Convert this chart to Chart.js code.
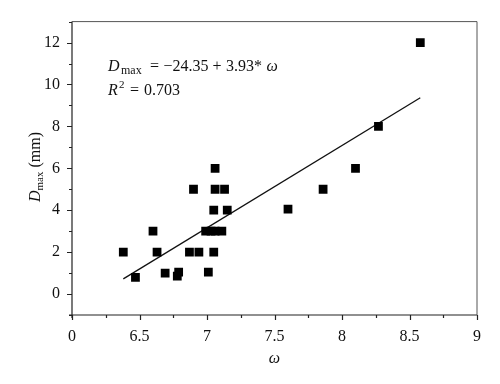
<!DOCTYPE html>
<html><head><meta charset="utf-8">
<script src="https://cdn.jsdelivr.net/npm/chart.js@4/dist/chart.umd.min.js"></script>
<style>html,body{margin:0;padding:0;background:#fff}#wrap{width:500px;height:384px}</style>
</head><body><div id="wrap"><canvas id="c" width="500" height="384"></canvas></div>
<script>
const omega = [6.38, 6.47, 6.60, 6.63, 6.69, 6.78, 6.79, 6.87, 6.90, 6.94, 6.99, 7.01, 7.03, 7.05, 7.05, 7.06, 7.06, 7.06, 7.11, 7.13, 7.15, 7.60, 7.86, 8.10, 8.27, 8.58];
const dmax  = [2.0, 0.8, 3.0, 2.0, 1.0, 0.85, 1.05, 2.0, 5.0, 2.0, 3.0, 1.05, 3.0, 2.0, 4.0, 3.0, 6.0, 5.0, 3.0, 5.0, 4.0, 4.05, 5.0, 6.0, 8.0, 12.0];
const intercept = -24.35;
const slope = 3.93;
const r2 = 0.703;
const xTickLabels = {6:'0', 6.5:'6.5', 7:'7', 7.5:'7.5', 8:'8', 8.5:'8.5', 9:'9'};
const yTickLabels = [0, 2, 4, 6, 8, 10, 12];

const pts = omega.map((x, i) => ({x, y: dmax[i]}));
const xmin = Math.min(...omega), xmax = Math.max(...omega);
const fit = [xmin, xmax].map(x => ({x, y: intercept + slope * x}));

const SERIF = '"Liberation Serif", "DejaVu Serif", serif';

const deco = {
  id: 'deco',
  afterDraw(chart) {
    const ctx = chart.ctx, a = chart.chartArea;
    const xs = chart.scales.x, ys = chart.scales.y;
    ctx.save();
    ctx.strokeStyle = '#222';
    ctx.lineWidth = 1.2;
    ctx.beginPath();
    ctx.moveTo(a.left - 3, a.bottom); ctx.lineTo(a.right, a.bottom);
    ctx.moveTo(a.left, a.bottom + 3); ctx.lineTo(a.left, a.top);
    ctx.stroke();
    ctx.lineWidth = 1;
    ctx.strokeStyle = '#555';
    ctx.beginPath();
    ctx.moveTo(a.left, a.top); ctx.lineTo(a.right, a.top); ctx.lineTo(a.right, a.bottom);
    ctx.stroke();
    ctx.strokeStyle = '#222';
    ctx.lineWidth = 1.2;
    ctx.beginPath();
    for (let v = 6; v <= 9.0001; v += 0.25) {
      const px = Math.round(xs.getPixelForValue(v)) + 0.5;
      const major = Math.abs(v * 2 - Math.round(v * 2)) < 1e-6;
      ctx.moveTo(px, a.bottom); ctx.lineTo(px, a.bottom + (major ? 5 : 3));
    }
    for (let v = -1; v <= 13; v += 1) {
      const py = Math.round(ys.getPixelForValue(v)) + 0.5;
      const major = v % 2 === 0;
      ctx.moveTo(a.left, py); ctx.lineTo(a.left - (major ? 5 : 3), py);
    }
    ctx.stroke();

    ctx.fillStyle = '#111';
    ctx.textBaseline = 'alphabetic';
    const F = 16;
    // equation
    let y = 71;
    ctx.font = 'italic ' + F + 'px ' + SERIF;
    ctx.fillText('D', 108, y);
    ctx.font = '12px ' + SERIF;
    ctx.fillText('max', 121, y + 3);
    ctx.font = F + 'px ' + SERIF;
    ctx.fillText('=', 150, y);
    ctx.fillText('\u221224.35', 163.5, y);
    ctx.fillText('+', 212.5, y);
    ctx.fillText('3.93*', 226, y);
    ctx.font = 'italic ' + F + 'px ' + SERIF;
    ctx.fillText('\u03C9', 266.5, y);
    // R2
    y = 95;
    ctx.font = 'italic ' + F + 'px ' + SERIF;
    ctx.fillText('R', 108, y);
    ctx.font = '11px ' + SERIF;
    ctx.fillText('2', 119, y - 7);
    ctx.font = F + 'px ' + SERIF;
    ctx.fillText('=', 130, y);
    ctx.fillText(r2.toFixed(3), 144, y);

    // x title
    ctx.font = 'italic 16px ' + SERIF;
    ctx.textAlign = 'center';
    ctx.fillText('\u03C9', (a.left + a.right) / 2, 363);

    // y title
    ctx.save();
    ctx.translate(40, 167);
    ctx.rotate(-Math.PI / 2);
    ctx.textAlign = 'left';
    ctx.font = 'italic 16px ' + SERIF;
    const w1 = ctx.measureText('D').width;
    ctx.font = '11px ' + SERIF;
    const w2 = ctx.measureText('max').width;
    ctx.font = '16px ' + SERIF;
    const w3 = ctx.measureText(' (mm)').width;
    let sx = -(w1 + w2 + w3) / 2;
    ctx.font = 'italic 16px ' + SERIF;
    ctx.fillText('D', sx, 0); sx += w1;
    ctx.font = '11px ' + SERIF;
    ctx.fillText('max', sx, 3); sx += w2;
    ctx.font = '16px ' + SERIF;
    ctx.fillText(' (mm)', sx, 0);
    ctx.restore();
    ctx.restore();
  }
};

new Chart(document.getElementById('c'), {
  type: 'scatter',
  data: {
    datasets: [
      { data: pts, pointStyle: 'rect', pointRadius: 6.2, pointHoverRadius: 6.2,
        backgroundColor: '#000', borderColor: '#000', borderWidth: 0, showLine: false },
      { type: 'line', data: fit, borderColor: '#111', borderWidth: 1.3, pointRadius: 0, fill: false }
    ]
  },
  options: {
    responsive: false,
    animation: false,
    events: [],
    layout: { padding: { left: 0, right: 23, top: 21, bottom: 0 } },
    plugins: { legend: { display: false }, tooltip: { enabled: false } },
    scales: {
      x: {
        type: 'linear', min: 6, max: 9,
        border: { display: false },
        grid: { display: false, drawTicks: false },
        afterFit(s) { s.height = 69; },
        ticks: {
          stepSize: 0.5, autoSkip: false, maxRotation: 0, padding: 12,
          color: '#111', font: { family: SERIF, size: 16 },
          callback: v => (xTickLabels[v] !== undefined ? xTickLabels[v] : '')
        }
      },
      y: {
        type: 'linear', min: -1, max: 13,
        border: { display: false },
        grid: { display: false, drawTicks: false },
        afterFit(s) { s.width = 72; },
        ticks: {
          stepSize: 1, autoSkip: false, padding: 12,
          color: '#111', font: { family: SERIF, size: 16 },
          callback: v => (yTickLabels.includes(v) ? String(v) : '')
        }
      }
    }
  },
  plugins: [deco]
});
</script>
</body></html>
